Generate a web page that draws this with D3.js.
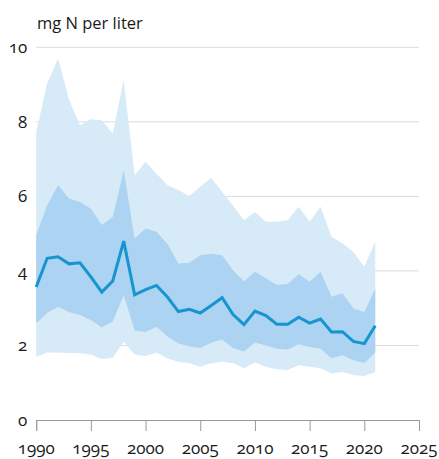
<!DOCTYPE html>
<html>
<head>
<meta charset="utf-8">
<script src="https://cdn.jsdelivr.net/npm/d3@7"></script>
<style>
  html, body { margin: 0; padding: 0; background: #fff; }
  #wrap { position: relative; width: 439px; height: 459px; overflow: hidden;
          font-family: "Open Sans"; font-variant-numeric: oldstyle-nums; font-feature-settings: "onum" 1;
          text-rendering: optimizeLegibility; }
  #chart { position: absolute; left: 0; top: 0; }
  .lbl { position: absolute; white-space: nowrap; line-height: normal; color: #1a1a1a;
         font-family: "Open Sans"; font-variant-numeric: oldstyle-nums; font-feature-settings: "onum" 1; }
</style>
</head>
<body>
<div id="wrap"><svg id="chart" width="439" height="459"></svg></div>
<script>
const years = d3.range(1990, 2022);
const mean = [3.57, 4.34, 4.38, 4.19, 4.22, 3.84, 3.43, 3.73, 4.8, 3.36, 3.5, 3.61, 3.3, 2.91, 2.97, 2.87, 3.07, 3.28, 2.83, 2.56, 2.92, 2.8, 2.57, 2.57, 2.76, 2.6, 2.71, 2.36, 2.37, 2.11, 2.05, 2.53];
const p25 = [2.59, 2.87, 3.04, 2.9, 2.82, 2.68, 2.48, 2.64, 3.35, 2.4, 2.36, 2.5, 2.24, 2.05, 1.98, 1.93, 2.07, 2.16, 1.93, 1.84, 2.08, 2.0, 1.91, 1.89, 2.03, 1.96, 1.91, 1.66, 1.74, 1.6, 1.53, 1.81];
const p75 = [4.96, 5.76, 6.3, 5.94, 5.85, 5.67, 5.23, 5.45, 6.7, 4.87, 5.14, 5.05, 4.72, 4.2, 4.22, 4.42, 4.46, 4.42, 4.02, 3.72, 3.98, 3.8, 3.62, 3.65, 3.91, 3.71, 3.98, 3.31, 3.4, 3.0, 2.9, 3.52];
const p10 = [1.7, 1.81, 1.81, 1.8, 1.79, 1.76, 1.63, 1.68, 2.1, 1.76, 1.72, 1.81, 1.65, 1.56, 1.52, 1.43, 1.52, 1.56, 1.52, 1.39, 1.54, 1.43, 1.36, 1.34, 1.47, 1.43, 1.39, 1.25, 1.29, 1.21, 1.18, 1.29];
const p90 = [7.72, 9.03, 9.7, 8.6, 7.9, 8.07, 8.04, 7.69, 9.12, 6.57, 6.93, 6.61, 6.3, 6.17, 6.01, 6.26, 6.5, 6.12, 5.75, 5.36, 5.58, 5.32, 5.32, 5.36, 5.72, 5.32, 5.72, 4.91, 4.74, 4.51, 4.11, 4.78];
const xTicks = [1990, 1995, 2000, 2005, 2010, 2015, 2020, 2025];
const yTicks = [0, 2, 4, 6, 8, 10];
const unitLabel = "mg N per liter";

const svg = d3.select("#chart");
const wrap = d3.select("#wrap");
const x = d3.scaleLinear().domain([1990, 2025]).range([36.2, 419]);
const y = d3.scaleLinear().domain([0, 10]).range([420, 47.3]);

// HTML label with its baseline at by (Open Sans ascent ~1.069em)
function label(text, lx, by, size, anchor) {
  const shift = anchor === "middle" ? "-50%" : anchor === "end" ? "-100%" : "0";
  wrap.append("div").attr("class", "lbl")
    .style("font-size", size + "px")
    .style("left", lx + "px")
    .style("top", (by - 1.069 * size) + "px")
    .style("transform", `translateX(${shift})`)
    .text(text);
}

// gridlines
svg.append("g").selectAll("line").data(yTicks.filter(d => d > 0)).join("line")
  .attr("x1", x(1990)).attr("x2", x(2025))
  .attr("y1", d => y(d)).attr("y2", d => y(d))
  .attr("stroke", "#dcdcdc").attr("stroke-width", 1);

const rows = years.map((yr, i) => ({yr, mean: mean[i], p10: p10[i], p25: p25[i], p75: p75[i], p90: p90[i]}));

const outer = d3.area().x(d => x(d.yr)).y0(d => y(d.p10)).y1(d => y(d.p90));
const inner = d3.area().x(d => x(d.yr)).y0(d => y(d.p25)).y1(d => y(d.p75));
const line = d3.line().x(d => x(d.yr)).y(d => y(d.mean));

svg.append("path").datum(rows).attr("d", outer).attr("fill", "#d7eaf8");
svg.append("path").datum(rows).attr("d", inner).attr("fill", "#acd3f1");
svg.append("path").datum(rows).attr("d", line).attr("fill", "none")
  .attr("stroke", "#1795cf").attr("stroke-width", 3).attr("stroke-linejoin", "miter");

// x axis line and ticks
const xAxis = d3.axisBottom(x).tickValues(xTicks).tickFormat("").tickSize(11);
const gx = svg.append("g").attr("transform", `translate(0,${y(0)})`).call(xAxis);
gx.select(".domain").attr("stroke", "#9a9a9a");
gx.selectAll(".tick line").attr("stroke", "#9a9a9a");
gx.selectAll("text").remove();

// tick labels (old-style figures)
xTicks.forEach(t => label(d3.format("d")(t), x(t), 454, 17, "middle"));
yTicks.forEach(v => label(d3.format("d")(v), x(1990) - 9, y(v) + 6, 17, "end"));

// unit label
label(unitLabel, 37, 29, 16.5, "start");
</script>
</body>
</html>
